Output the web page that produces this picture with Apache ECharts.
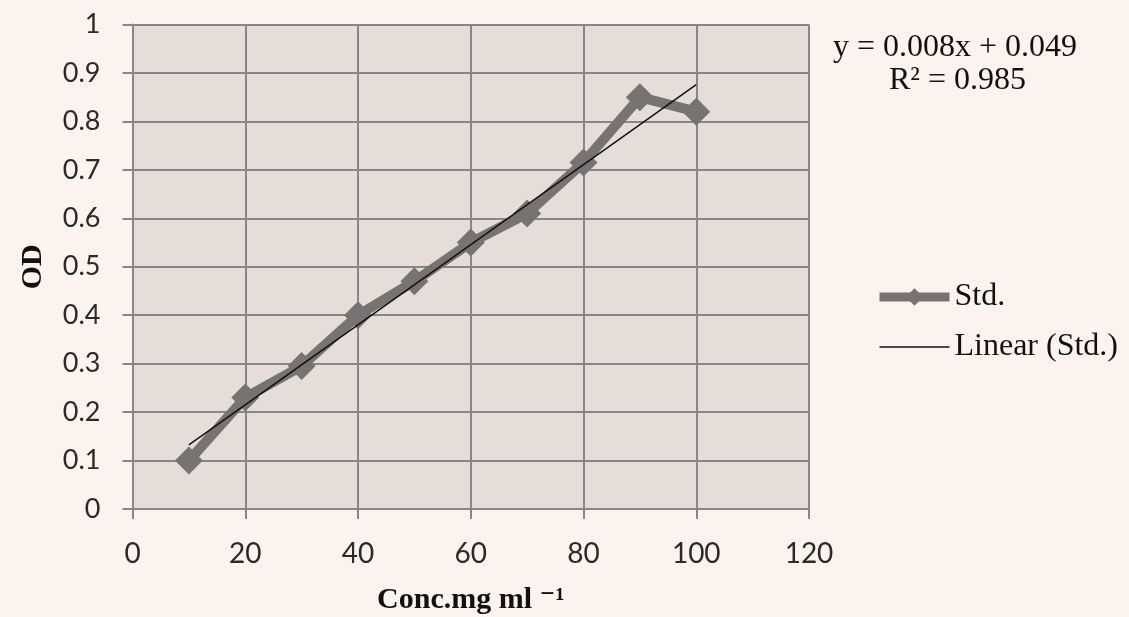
<!DOCTYPE html>
<html>
<head>
<meta charset="utf-8">
<script src="https://cdn.jsdelivr.net/npm/echarts@6/dist/echarts.min.js"></script>
<style>
html,body{margin:0;padding:0;background:#fcf2ee;}
#c{width:1129px;height:617px;}
</style>
</head>
<body>
<div id="c"></div>
<script>
var concentrations = [10, 20, 30, 40, 50, 60, 70, 80, 90, 100];
var odValues = [0.10, 0.23, 0.295, 0.40, 0.47, 0.55, 0.61, 0.715, 0.85, 0.82];
var yTicks = [0, 0.1, 0.2, 0.3, 0.4, 0.5, 0.6, 0.7, 0.8, 0.9, 1];
var xTicks = [0, 20, 40, 60, 80, 100, 120];
var equationText = 'y = 0.008x + 0.049';
var r2Text = 'R² = 0.985';

// least-squares trend line from the data
var n = concentrations.length, sx = 0, sy = 0, sxx = 0, sxy = 0;
for (var i = 0; i < n; i++) {
  sx += concentrations[i]; sy += odValues[i];
  sxx += concentrations[i] * concentrations[i]; sxy += concentrations[i] * odValues[i];
}
var slope = (n * sxy - sx * sy) / (n * sxx - sx * sx);
var intercept = (sy - slope * sx) / n;
var x0 = concentrations[0], x1 = concentrations[n - 1];
var trend = [[x0, slope * x0 + intercept], [x1, slope * x1 + intercept]];

var chart = echarts.init(document.getElementById('c'));
var serif = '"Liberation Serif", "DejaVu Serif", serif';
var sans = 'Lato, "Open Sans", sans-serif';
chart.setOption({
  backgroundColor: '#fcf2ee',
  animation: false,
  grid: {left: 132.5, right: 320, top: 24.5, bottom: 108, show: true,
         containLabel: false, outerBoundsMode: 'none',
         backgroundColor: '#e6ddd9', borderWidth: 0},
  xAxis: {
    type: 'value', min: 0, max: 120, interval: 20,
    axisLine: {show: true, onZero: false, lineStyle: {color: '#8a8684', width: 2}},
    axisTick: {show: true, length: 10, lineStyle: {color: '#8a8684', width: 2}},
    splitLine: {show: true, lineStyle: {color: '#8a8684', width: 2}},
    axisLabel: {color: '#2a2a2a', fontFamily: sans, fontSize: 28, margin: 31},
    name: 'Conc.mg ml ⁻¹', nameLocation: 'middle', nameGap: 76,
    nameTextStyle: {fontFamily: serif, fontWeight: 'bold', fontSize: 30, color: '#111'}
  },
  yAxis: {
    type: 'value', min: 0, max: 1, interval: 0.1,
    axisLine: {show: true, lineStyle: {color: '#8a8684', width: 2}},
    axisTick: {show: true, length: 10, lineStyle: {color: '#8a8684', width: 2}},
    splitLine: {show: true, lineStyle: {color: '#8a8684', width: 2}},
    axisLabel: {color: '#2a2a2a', fontFamily: sans, fontSize: 27, margin: 32},
    name: 'OD', nameLocation: 'middle', nameGap: 84, nameRotate: 90,
    nameTextStyle: {fontFamily: serif, fontWeight: 'bold', fontSize: 30, color: '#111'}
  },
  legend: {
    orient: 'vertical', left: 870, top: 276, itemGap: 18, itemWidth: 70, itemHeight: 22,
    textStyle: {fontFamily: serif, fontSize: 32, color: '#111'},
    data: [
      {name: 'Std.', lineStyle: {width: 9, color: '#767372'}, itemStyle: {color: '#767372'}},
      {name: 'Linear (Std.)', lineStyle: {width: 1.5, color: '#111'}, itemStyle: {opacity: 0}}
    ]
  },
  graphic: [
    {type: 'text', left: 833, top: 32, style: {text: equationText, font: '32px ' + serif, fill: '#111'}},
    {type: 'text', left: 889, top: 65, style: {text: r2Text, font: '32px ' + serif, fill: '#111'}}
  ],
  series: [
    {
      name: 'Std.', type: 'line',
      data: concentrations.map(function (c, i) { return [c, odValues[i]]; }),
      symbol: 'diamond', symbolSize: 28,
      itemStyle: {color: '#767372'},
      lineStyle: {color: '#767372', width: 10}, z: 2
    },
    {
      name: 'Linear (Std.)', type: 'line', data: trend,
      symbol: 'none', lineStyle: {color: '#111', width: 1.5}, itemStyle: {color: '#111'}, z: 3
    }
  ]
});
</script>
</body>
</html>
